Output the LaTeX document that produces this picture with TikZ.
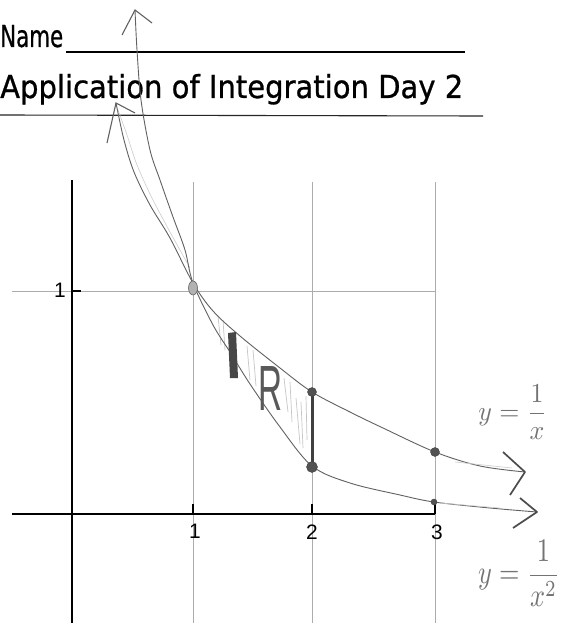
\documentclass[tikz,border=0pt]{standalone}
\usepackage{fontspec}
\setmainfont{DejaVu Sans}
\newfontfamily\titlefont[FakeBold=0.8]{DejaVu Sans}
\newfontfamily\labfont{Liberation Sans}
\begin{document}
\begin{tikzpicture}[x=1bp,y=-1bp,
  gridline/.style={gray!65,line width=0.6bp},
  axisline/.style={black,line width=1.3bp},
  pencil/.style={black!62,line width=0.9bp},
  faint/.style={gray!40,line width=0.6bp},
  hatch/.style={gray!45,line width=0.7bp},
  barb/.style={black!62,line width=1.1bp},
  chev/.style={black!70,line width=1.7bp},
  ptdot/.style={fill=black!68,draw=black!75,line width=0.4bp},
  ticklab/.style={font=\labfont\fontsize{21}{21}\selectfont,inner sep=0pt},
  hand/.style={black!55,inner sep=0pt}]
\useasboundingbox (0,0) rectangle (561,623);
\fill[white] (0,0) rectangle (561,623);

% header
\node[anchor=base west,inner sep=0pt] (name) at (0,47) {\resizebox{63bp}{22bp}{\titlefont Name}};
\node[anchor=base west,inner sep=0pt] (title) at (0,98) {\resizebox{463bp}{24bp}{\titlefont Application of Integration Day 2}};
\coordinate (ulA) at (66,52);
\coordinate (ulB) at (465,52);
\draw[black,line width=1.6bp] (ulA) -- (ulB);
\coordinate (hlA) at (0,115);
\coordinate (hlB) at (483,116);
\draw[black!85,line width=1.1bp] (hlA) -- (hlB);

% grid
\coordinate (g1t) at (193,182); \coordinate (g1b) at (193,623);
\coordinate (g2t) at (312,182); \coordinate (g2b) at (312,623);
\coordinate (g3t) at (435,182); \coordinate (g3b) at (435,623);
\coordinate (hyA) at (12,291); \coordinate (hyB) at (435,291);
\draw[gridline] (g1t) -- (g1b);
\draw[gridline] (g2t) -- (g2b);
\draw[gridline] (g3t) -- (g3b);
\draw[gridline] (hyA) -- (hyB);

% axes
\coordinate (yaT) at (72,180); \coordinate (yaB) at (72,623);
\coordinate (xaL) at (12,514); \coordinate (xaR) at (435,514);
\draw[axisline] (yaT) -- (yaB);
\draw[axisline] (xaL) -- (xaR);
% ticks
\coordinate (t1) at (193,514); \coordinate (t1u) at (193,504);
\coordinate (t2) at (312,514); \coordinate (t2u) at (312,504);
\coordinate (t3) at (435,514); \coordinate (t3u) at (435,504);
\coordinate (ty) at (72,291); \coordinate (tyr) at (81,291);
\draw[axisline] (t1) -- (t1u);
\draw[axisline] (t2) -- (t2u);
\draw[axisline] (t3) -- (t3u);
\draw[axisline] (ty) -- (tyr);
\node[ticklab] (l1) at (195,531) {1};
\node[ticklab] (l2) at (312,532) {2};
\node[ticklab] (l3) at (437,532) {3};
\node[ticklab] (ly) at (60,290) {1};

% hatching of region R
\draw[hatch] (218,316) -- (221,345);
\draw[hatch] (223,320) -- (225,350);
\draw[hatch] (247,346) -- (250,380);
\draw[hatch] (253,350) -- (256,386);
\draw[hatch] (284,378) -- (288,412);
\draw[hatch] (290,382) -- (292,422);
\draw[hatch] (296,398) -- (300,444);
\draw[hatch] (301,402) -- (303,448);
\draw[hatch] (306,396) -- (307,440);

% curves
\draw[faint] plot[smooth] coordinates {(118,110) (127,135) (137,165) (152,198) (170,232) (190,268)};
\draw[pencil] plot[smooth,tension=0.55] coordinates {(116,103) (124,140) (134,172) (150,205) (170,238) (193,283) (213,311) (240,336) (280,368) (312,392) (350,412) (383,428) (435,452) (480,466) (525,472)};
\draw[pencil] plot[smooth,tension=0.55] coordinates {(135,10) (137,50) (141,100) (150,150) (160,180) (173,217) (185,250) (193,283) (213,325) (230,352) (250,384) (280,427) (312,466) (350,483) (400,495) (434,502) (490,508) (537,512)};
\draw[faint] (455,462) -- (512,468);
\draw[faint] (440,503) -- (500,508);

% arrowheads at the top
\coordinate (tipA) at (135,10);
\coordinate (tipAl) at (122,35); \coordinate (tipAr) at (152,23);
\draw[barb] (tipAl) -- (tipA) -- (tipAr);
\coordinate (tipB) at (116,103);
\coordinate (tipBl) at (107,143); \coordinate (tipBr) at (135,113);
\draw[barb] (tipBl) -- (tipB) -- (tipBr);

% chevrons at the right
\coordinate (c1a) at (503,452); \coordinate (c1t) at (525,472); \coordinate (c1b) at (510,495);
\draw[chev,line join=round] (c1a) -- (c1t) -- (c1b);
\coordinate (c2a) at (520,498); \coordinate (c2t) at (537,512); \coordinate (c2b) at (513,528);
\draw[chev,line join=round] (c2a) -- (c2t) -- (c2b);

% representative rectangle
\fill[black!72] (228,333) -- (236,332) -- (238,378) -- (230,378) -- cycle;

% points
\coordinate (p11) at (193,288);
\coordinate (p2u) at (312,392);
\coordinate (p2l) at (312,467);
\coordinate (p3u) at (435,452);
\coordinate (p3l) at (434,502);
\draw[black!75,line width=3bp] (p2u) -- (p2l);
\filldraw[fill=gray!60,draw=black!60,line width=0.6bp] (p11) ellipse [x radius=4.5bp,y radius=7bp];
\filldraw[ptdot] (p2u) circle[radius=4.5bp];
\filldraw[ptdot] (p2l) circle[radius=5.5bp];
\filldraw[ptdot] (p3u) circle[radius=4.5bp];
\filldraw[ptdot] (p3l) circle[radius=3bp];

% labels
\node[hand,text=black!65] (R) at (270,388) {\resizebox{24bp}{44bp}{\labfont R}};
\node[hand] (lab1) at (513,412) {\resizebox*{69bp}{55bp}{$\displaystyle y=\frac{1}{x}$}};
\node[hand] (lab2) at (519,573) {\resizebox*{82bp}{66bp}{$\displaystyle y=\frac{1}{x^2}$}};
\end{tikzpicture}
\end{document}
